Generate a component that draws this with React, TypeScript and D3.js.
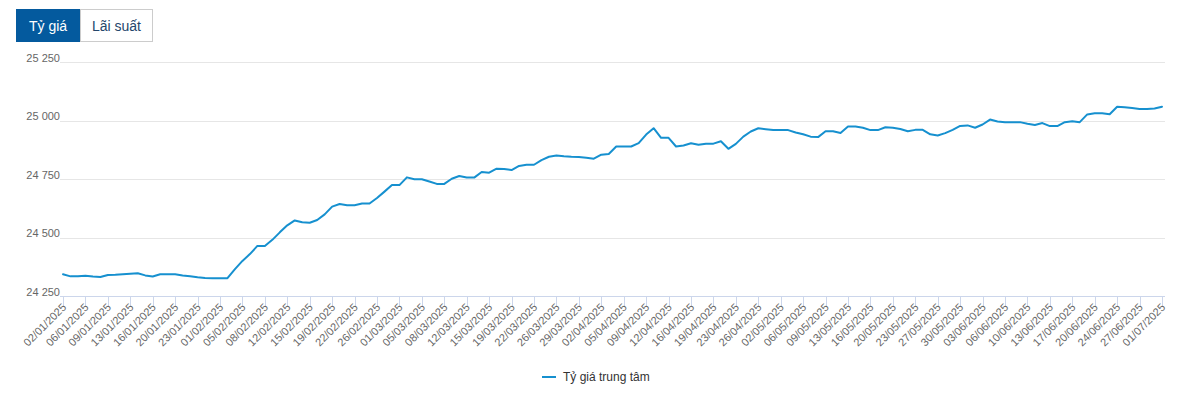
import React, { useEffect } from "react";
import * as d3 from "d3";

const categories: string[] = [
  "02/01/2025","03/01/2025","04/01/2025","06/01/2025","07/01/2025","08/01/2025","09/01/2025","10/01/2025","11/01/2025","13/01/2025",
  "14/01/2025","15/01/2025","16/01/2025","17/01/2025","18/01/2025","20/01/2025","21/01/2025","22/01/2025","23/01/2025","24/01/2025",
  "25/01/2025","01/02/2025","03/02/2025","04/02/2025","05/02/2025","06/02/2025","07/02/2025","08/02/2025","10/02/2025","11/02/2025",
  "12/02/2025","13/02/2025","14/02/2025","15/02/2025","17/02/2025","18/02/2025","19/02/2025","20/02/2025","21/02/2025","22/02/2025",
  "24/02/2025","25/02/2025","26/02/2025","27/02/2025","28/02/2025","01/03/2025","03/03/2025","04/03/2025","05/03/2025","06/03/2025",
  "07/03/2025","08/03/2025","10/03/2025","11/03/2025","12/03/2025","13/03/2025","14/03/2025","15/03/2025","17/03/2025","18/03/2025",
  "19/03/2025","20/03/2025","21/03/2025","22/03/2025","24/03/2025","25/03/2025","26/03/2025","27/03/2025","28/03/2025","29/03/2025",
  "31/03/2025","01/04/2025","02/04/2025","03/04/2025","04/04/2025","05/04/2025","07/04/2025","08/04/2025","09/04/2025","10/04/2025",
  "11/04/2025","12/04/2025","14/04/2025","15/04/2025","16/04/2025","17/04/2025","18/04/2025","19/04/2025","21/04/2025","22/04/2025",
  "23/04/2025","24/04/2025","25/04/2025","26/04/2025","28/04/2025","29/04/2025","02/05/2025","03/05/2025","05/05/2025","06/05/2025",
  "07/05/2025","08/05/2025","09/05/2025","10/05/2025","12/05/2025","13/05/2025","14/05/2025","15/05/2025","16/05/2025","17/05/2025",
  "19/05/2025","20/05/2025","21/05/2025","22/05/2025","23/05/2025","24/05/2025","26/05/2025","27/05/2025","28/05/2025","29/05/2025",
  "30/05/2025","31/05/2025","02/06/2025","03/06/2025","04/06/2025","05/06/2025","06/06/2025","07/06/2025","09/06/2025","10/06/2025",
  "11/06/2025","12/06/2025","13/06/2025","14/06/2025","16/06/2025","17/06/2025","18/06/2025","19/06/2025","20/06/2025","21/06/2025",
  "23/06/2025","24/06/2025","25/06/2025","26/06/2025","27/06/2025","28/06/2025","30/06/2025","01/07/2025"
];

const centralRate: number[] = [
  24343,24334,24334,24337,24333,24331,24340,24341,24343,24345,
  24347,24338,24333,24343,24343,24343,24338,24334,24330,24327,
  24326,24326,24326,24365,24400,24429,24464,24464,24490,24522,
  24552,24573,24565,24563,24575,24599,24632,24643,24638,24638,
  24645,24645,24669,24696,24724,24724,24757,24749,24749,24739,
  24729,24729,24751,24763,24756,24756,24780,24777,24794,24793,
  24788,24806,24811,24811,24831,24845,24850,24847,24845,24844,
  24841,24837,24854,24857,24889,24889,24889,24903,24940,24967,
  24926,24926,24889,24893,24903,24896,24901,24901,24911,24879,
  24900,24931,24953,24967,24963,24959,24959,24959,24949,24941,
  24931,24929,24954,24954,24947,24974,24974,24969,24959,24959,
  24971,24969,24964,24954,24960,24960,24941,24936,24946,24960,
  24977,24979,24969,24983,25004,24996,24993,24993,24993,24986,
  24981,24989,24976,24976,24993,24997,24993,25026,25031,25031,
  25027,25059,25057,25053,25049,25049,25051,25059
];

const yTicks: number[] = [24250, 24500, 24750, 25000, 25250];
const tabs: string[] = ["Tỷ giá", "Lãi suất"];
const seriesName = "Tỷ giá trung tâm";

const W = 1180;
const H = 396;
const FONT = "'Liberation Sans', Arial, Helvetica, sans-serif";
const LINE_COLOR = "#1690cf";

export default function App() {
  useEffect(() => {
    document.body.style.margin = "0";
  }, []);

  const plotLeft = 60;
  const plotRight = 1165;
  const plotTop = 62;
  const plotBottom = 296;

  const x = d3.scalePoint<string>().domain(categories).range([63, 1162]);
  const y = d3.scaleLinear().domain([24250, 25250]).range([plotBottom, plotTop]);
  const fmt = d3.formatLocale({ decimal: ",", thousands: " ", grouping: [3], currency: ["", ""] }).format(",d");

  const line = d3
    .line<number>()
    .x((_, i) => x(categories[i]) as number)
    .y((d) => y(d));

  const tickCats = categories.filter((_, i) => i % 3 === 0);

  return (
    <svg width={W} height={H} style={{ display: "block", fontFamily: FONT }}>
      <rect width={W} height={H} fill="#ffffff" />
      {/* tabs */}
      <rect x={16} y={9} width={64} height={33} fill="#045a9e" />
      <text x={48} y={30.5} textAnchor="middle" fontSize={14} fill="#ffffff">{tabs[0]}</text>
      <rect x={80.5} y={9.5} width={72} height={32} fill="#ffffff" stroke="#cccccc" strokeWidth={1} />
      <text x={116.5} y={30.5} textAnchor="middle" fontSize={14} fill="#24466b">{tabs[1]}</text>

      {/* grid */}
      {yTicks.map((t) => (
        <line key={"g" + t} x1={plotLeft} x2={plotRight} y1={Math.round(y(t)) + 0.5} y2={Math.round(y(t)) + 0.5} stroke="#e6e6e6" strokeWidth={1} />
      ))}
      {yTicks.map((t) => (
        <text key={"yl" + t} x={60} y={y(t) - 0.5} textAnchor="end" fontSize={11} fill="#666666">{fmt(t)}</text>
      ))}

      {/* x axis */}
      <line x1={plotLeft} x2={plotRight} y1={plotBottom + 0.5} y2={plotBottom + 0.5} stroke="#ccd6eb" strokeWidth={1} />
      {tickCats.map((c) => {
        const xx = Math.round(x(c) as number) + 0.5;
        return <line key={"t" + c} x1={xx} x2={xx} y1={plotBottom} y2={plotBottom + 10} stroke="#ccd6eb" strokeWidth={1} />;
      })}
      {tickCats.map((c) => {
        const xx = (x(c) as number) + 4;
        const yy = plotBottom + 12;
        return (
          <text key={"xl" + c} x={xx} y={yy} transform={`rotate(-45 ${xx} ${yy})`} textAnchor="end" fontSize={11} fill="#666666">
            {c}
          </text>
        );
      })}

      {/* series */}
      <path d={line(centralRate) || ""} fill="none" stroke={LINE_COLOR} strokeWidth={2} strokeLinejoin="round" strokeLinecap="round" />

      {/* legend */}
      <line x1={542} x2={556} y1={377} y2={377} stroke={LINE_COLOR} strokeWidth={2} />
      <text x={563} y={381} fontSize={12} fill="#333333">{seriesName}</text>
    </svg>
  );
}
